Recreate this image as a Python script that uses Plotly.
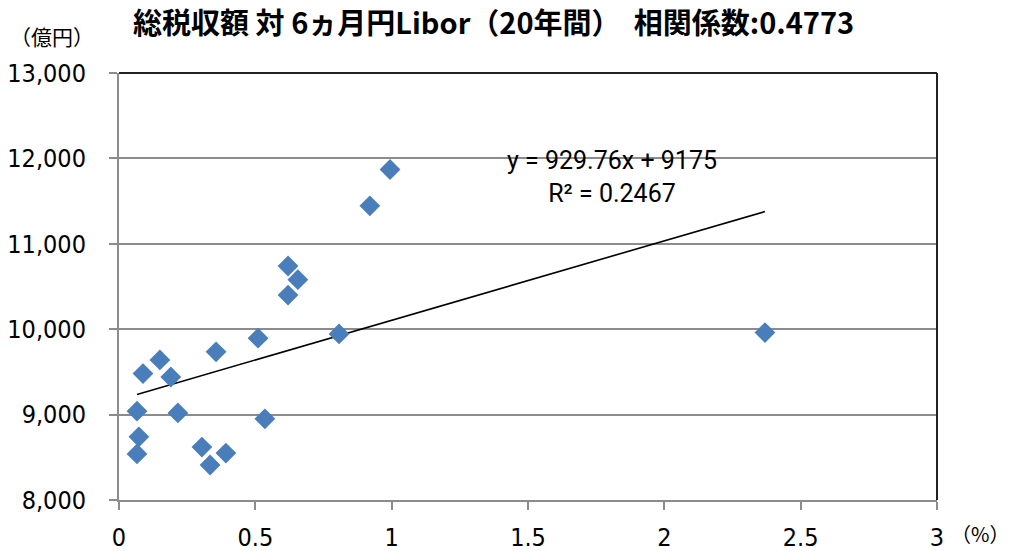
import numpy as np
import plotly.graph_objects as go

# 6-month Yen Libor (%) and total tax revenue (100 million yen)
libor = [0.066, 0.073, 0.066, 0.088, 0.150, 0.190, 0.216, 0.304, 0.334, 0.392,
         0.356, 0.510, 0.535, 0.620, 0.620, 0.656, 0.807, 0.920, 0.994, 2.369]
tax = [9040, 8740, 8540, 9480, 9640, 9440, 9020, 8620, 8410, 8550,
       9735, 9895, 8950, 10740, 10400, 10580, 9945, 11445, 11870, 9960]

slope = 929.76
intercept = 9175
r2 = 0.2467

title_text = "総税収額 対 6ヵ月円Libor（20年間）  相関係数:0.4773"
x_ticks = [0, 0.5, 1, 1.5, 2, 2.5, 3]
x_tick_labels = ["0", "0.5", "1", "1.5", "2", "2.5", "3"]
y_ticks = [8000, 9000, 10000, 11000, 12000, 13000]

trend_x = np.array([min(libor), max(libor)])
trend_y = slope * trend_x + intercept

# plot area in window pixels: x 119..937, y 73..500 (body margin removed)
PX0, PX1, PY0, PY1 = 119, 937, 73, 500
W, H = PX1 - PX0, PY1 - PY0


def px(x):
    return (x - PX0) / W


def py(y):
    return (PY1 - y) / H


fig = go.Figure()
fig.add_trace(go.Scatter(
    x=trend_x, y=trend_y, mode="lines",
    line=dict(color="black", width=1.6), hoverinfo="skip", showlegend=False))
fig.add_trace(go.Scatter(
    x=libor, y=tax, mode="markers",
    marker=dict(symbol="diamond", size=16, color="#4A7EBB", line=dict(width=0)),
    showlegend=False))

tick_font = dict(family="DejaVu Sans Condensed, Roboto, sans-serif", size=25, color="black")

fig.update_layout(
    width=1012, height=551,
    margin=dict(l=PX0, r=1012 - PX1, t=PY0, b=551 - PY1),
    paper_bgcolor="white", plot_bgcolor="white",
    xaxis=dict(range=[0, 3], tickvals=x_ticks, ticktext=x_tick_labels, automargin=False,
               showgrid=False, zeroline=False, showline=True, linecolor="#8C8C8C", linewidth=2,
               ticks="outside", ticklen=8, tickwidth=2, tickcolor="#8C8C8C",
               ticklabelstandoff=6, tickfont=tick_font),
    yaxis=dict(range=[8000, 13000], tickvals=y_ticks, tickformat=",d", automargin=False,
               showgrid=True, gridcolor="#8C8C8C", gridwidth=2, zeroline=False,
               showline=True, linecolor="#8C8C8C", linewidth=2,
               ticks="outside", ticklen=8, tickwidth=2, tickcolor="#8C8C8C",
               ticklabelstandoff=18, tickfont=tick_font),
    shapes=[
        dict(type="line", xref="paper", yref="paper", x0=0, x1=1, y0=1, y1=1,
             line=dict(color="#222222", width=2)),
        dict(type="line", xref="paper", yref="paper", x0=1, x1=1, y0=0, y1=1,
             line=dict(color="#222222", width=2)),
    ],
    annotations=[
        dict(text="<b>" + title_text + "</b>", xref="paper", yref="paper",
             x=px(131), y=py(21), xanchor="left", yanchor="middle",
             showarrow=False, font=dict(family="Noto Sans CJK JP", size=29, color="black")),
        dict(text="（億円）", xref="paper", yref="paper",
             x=px(8), y=py(36), xanchor="left", yanchor="middle",
             showarrow=False, font=dict(family="Noto Sans CJK JP", size=21, color="black")),
        dict(text="（%）", xref="paper", yref="paper",
             x=px(1011), y=py(533), xanchor="right", yanchor="middle",
             showarrow=False, font=dict(family="Noto Sans CJK JP", size=20, color="black")),
        dict(text=f"y = {slope}x + {intercept}<br>R² = {r2}", xref="paper", yref="paper",
             x=px(612), y=py(177), xanchor="center", yanchor="middle",
             align="center", showarrow=False,
             font=dict(family="Roboto", size=25, color="black")),
    ],
)

fig.write_html("out.html", config={"displayModeBar": False},
               post_script="document.body.style.margin='0px';document.body.style.overflow='hidden';")
